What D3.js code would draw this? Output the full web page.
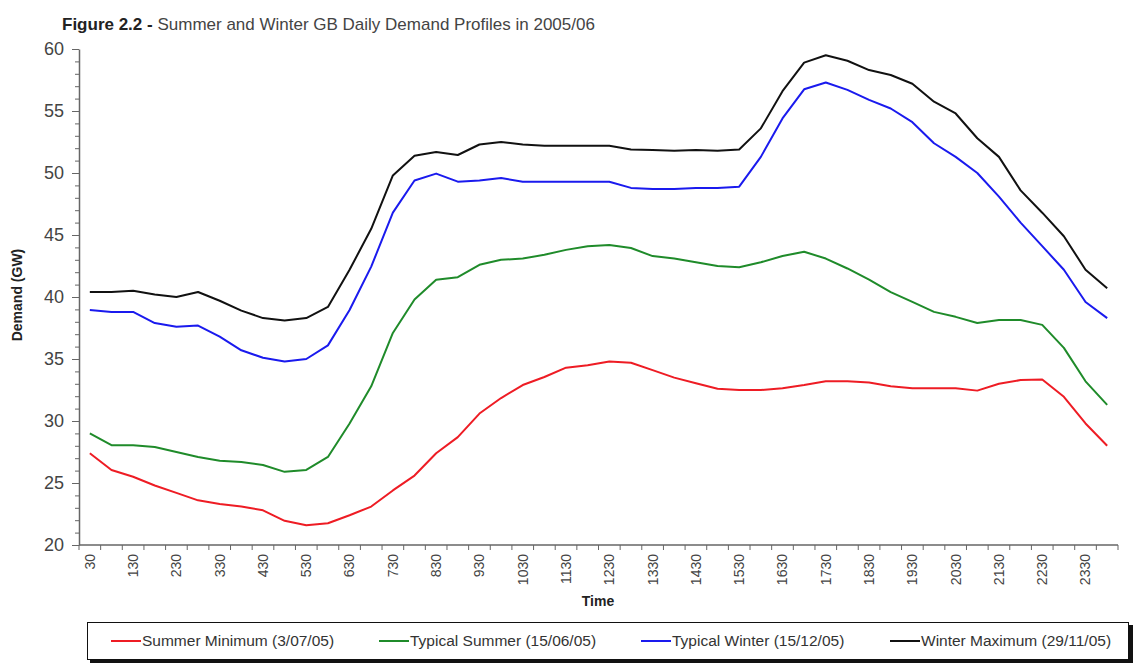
<!DOCTYPE html>
<html>
<head>
<meta charset="utf-8">
<script src="https://cdn.jsdelivr.net/npm/d3@7"></script>
<style>
  body { margin: 0; background: #fff; }
  svg { font-family: "Liberation Sans", Arial, sans-serif; }
</style>
</head>
<body>
<svg id="chart" width="1142" height="665"></svg>
<script>
// half-hour periods, labelled like the source (hhmm without leading zeros)
var times = ["30","100","130","200","230","300","330","400","430","500","530","600",
  "630","700","730","800","830","900","930","1000","1030","1100","1130","1200",
  "1230","1300","1330","1400","1430","1500","1530","1600","1630","1700","1730","1800",
  "1830","1900","1930","2000","2030","2100","2130","2200","2230","2300","2330","2400"];

// demand in GW
var summerMin = [27.4, 26.05, 25.5, 24.8, 24.2, 23.6, 23.3, 23.1, 22.8, 21.95, 21.6, 21.75,
  22.4, 23.1, 24.4, 25.6, 27.4, 28.7, 30.6, 31.85, 32.9, 33.55, 34.3, 34.5,
  34.8, 34.7, 34.1, 33.5, 33.05, 32.6, 32.5, 32.5, 32.65, 32.9, 33.2, 33.2,
  33.1, 32.8, 32.65, 32.65, 32.65, 32.45, 33.0, 33.3, 33.35, 31.95, 29.8, 28.0];
var typicalSummer = [29.0, 28.05, 28.05, 27.9, 27.5, 27.1, 26.8, 26.7, 26.45, 25.9, 26.05, 27.1,
  29.8, 32.8, 37.1, 39.8, 41.4, 41.6, 42.6, 43.0, 43.1, 43.4, 43.8, 44.1,
  44.2, 43.95, 43.3, 43.1, 42.8, 42.5, 42.4, 42.8, 43.3, 43.65, 43.1, 42.3,
  41.4, 40.4, 39.6, 38.8, 38.4, 37.9, 38.15, 38.15, 37.75, 35.9, 33.2, 31.3];
var typicalWinter = [38.95, 38.8, 38.8, 37.9, 37.6, 37.7, 36.8, 35.7, 35.1, 34.8, 35.0, 36.1,
  38.95, 42.45, 46.8, 49.4, 49.95, 49.3, 49.4, 49.6, 49.3, 49.3, 49.3, 49.3,
  49.3, 48.8, 48.7, 48.7, 48.8, 48.8, 48.9, 51.3, 54.4, 56.75, 57.3, 56.7,
  55.9, 55.2, 54.1, 52.4, 51.3, 50.0, 48.1, 46.0, 44.1, 42.2, 39.6, 38.3];
var winterMax = [40.4, 40.4, 40.5, 40.2, 40.0, 40.4, 39.7, 38.9, 38.3, 38.1, 38.3, 39.2,
  42.2, 45.5, 49.8, 51.4, 51.7, 51.45, 52.3, 52.5, 52.3, 52.2, 52.2, 52.2,
  52.2, 51.9, 51.85, 51.8, 51.85, 51.8, 51.9, 53.6, 56.6, 58.9, 59.5, 59.05,
  58.3, 57.9, 57.2, 55.75, 54.8, 52.8, 51.3, 48.6, 46.8, 44.9, 42.2, 40.7];

var seriesNames = ["Summer Minimum (3/07/05)", "Typical Summer (15/06/05)",
  "Typical Winter (15/12/05)", "Winter Maximum (29/11/05)"];
var seriesColors = ["#ee1c24", "#1f8b2a", "#1a1aee", "#111111"];
var seriesValues = [summerMin, typicalSummer, typicalWinter, winterMax];

var yMajor = [20, 25, 30, 35, 40, 45, 50, 55, 60];

var svg = d3.select("#chart");
var plotLeft = 79, plotRight = 1118, plotTop = 49, plotBottom = 545;

var x = d3.scaleBand().domain(times).range([plotLeft, plotRight]).padding(0);
var y = d3.scaleLinear().domain([20, 60]).range([plotBottom, plotTop]);
var cx = function(t) { return x(t) + x.bandwidth() / 2; };

// title
var title = svg.append("text").attr("x", 62).attr("y", 30)
  .attr("font-size", 17).attr("fill", "#222");
title.append("tspan").attr("font-weight", "bold").text("Figure 2.2 - ");
title.append("tspan").attr("fill", "#444").text("Summer and Winter GB Daily Demand Profiles in 2005/06");

// y axis, minor ticks every 1 GW then majors with labels
svg.append("g")
  .attr("transform", "translate(" + plotLeft + ",0)")
  .call(d3.axisLeft(y).tickValues(d3.range(20, 61, 1)).tickSize(4).tickFormat(""))
  .call(function(g) { g.select(".domain").remove(); })
  .selectAll("line").attr("stroke", "#666");

var yAxis = svg.append("g")
  .attr("transform", "translate(" + plotLeft + ",0)")
  .call(d3.axisLeft(y).tickValues(yMajor).tickSize(7).tickPadding(8).tickSizeOuter(0));
yAxis.select(".domain").attr("stroke", "#666").attr("stroke-width", 1.5);
yAxis.selectAll("line").attr("stroke", "#666");
yAxis.selectAll("text").attr("font-size", 18).attr("fill", "#444")
  .attr("font-family", "Liberation Sans, Arial, sans-serif");

// x axis line and ticks between categories
var bounds = times.map(function(t) { return x(t); }).concat([plotRight]);
svg.append("line").attr("x1", plotLeft).attr("x2", plotRight)
  .attr("y1", plotBottom).attr("y2", plotBottom)
  .attr("stroke", "#666").attr("stroke-width", 1.5);
svg.append("g").selectAll("line").data(bounds).enter().append("line")
  .attr("x1", function(d) { return d; }).attr("x2", function(d) { return d; })
  .attr("y1", plotBottom).attr("y2", plotBottom + 5)
  .attr("stroke", "#666");

// x labels, every second period
var xAxis = svg.append("g")
  .attr("transform", "translate(0," + plotBottom + ")")
  .call(d3.axisBottom(x).tickValues(times.filter(function(d, i) { return i % 2 === 0; }))
    .tickSize(0));
xAxis.select(".domain").remove();
xAxis.selectAll("text")
  .attr("font-size", 14).attr("fill", "#444")
  .attr("font-family", "Liberation Sans, Arial, sans-serif")
  .attr("text-anchor", "end")
  .attr("transform", "rotate(-90)")
  .attr("x", -9).attr("y", 0).attr("dy", "0.35em");

// axis titles
svg.append("text").attr("x", 598).attr("y", 606).attr("text-anchor", "middle")
  .attr("font-weight", "bold").attr("font-size", 14).attr("fill", "#222").text("Time");
svg.append("text").attr("transform", "translate(22,295) rotate(-90)")
  .attr("text-anchor", "middle").attr("font-weight", "bold").attr("font-size", 14)
  .attr("fill", "#222").text("Demand (GW)");

// lines
var line = d3.line()
  .x(function(d, i) { return cx(times[i]); })
  .y(function(d) { return y(d); });

svg.append("g").selectAll("path").data(seriesValues).enter().append("path")
  .attr("d", line)
  .attr("fill", "none")
  .attr("stroke", function(d, i) { return seriesColors[i]; })
  .attr("stroke-width", 2)
  .attr("stroke-linejoin", "round");

// legend box with shadow
svg.append("rect").attr("x", 90).attr("y", 625).attr("width", 1043).attr("height", 38)
  .attr("fill", "#111");
svg.append("rect").attr("x", 87.5).attr("y", 622.5).attr("width", 1041).attr("height", 37)
  .attr("fill", "#fff").attr("stroke", "#111").attr("stroke-width", 1);

var legendX = [111, 379, 641, 890];
var legend = svg.append("g").selectAll("g").data(seriesNames).enter().append("g")
  .attr("transform", function(d, i) { return "translate(" + legendX[i] + ",641)"; });
legend.append("line").attr("x1", 0).attr("x2", 30).attr("y1", 0).attr("y2", 0)
  .attr("stroke", function(d, i) { return seriesColors[i]; }).attr("stroke-width", 2);
legend.append("text").attr("x", 31).attr("dy", "0.35em")
  .attr("font-size", 15.5).attr("fill", "#333")
  .text(function(d) { return d; });
</script>
</body>
</html>
